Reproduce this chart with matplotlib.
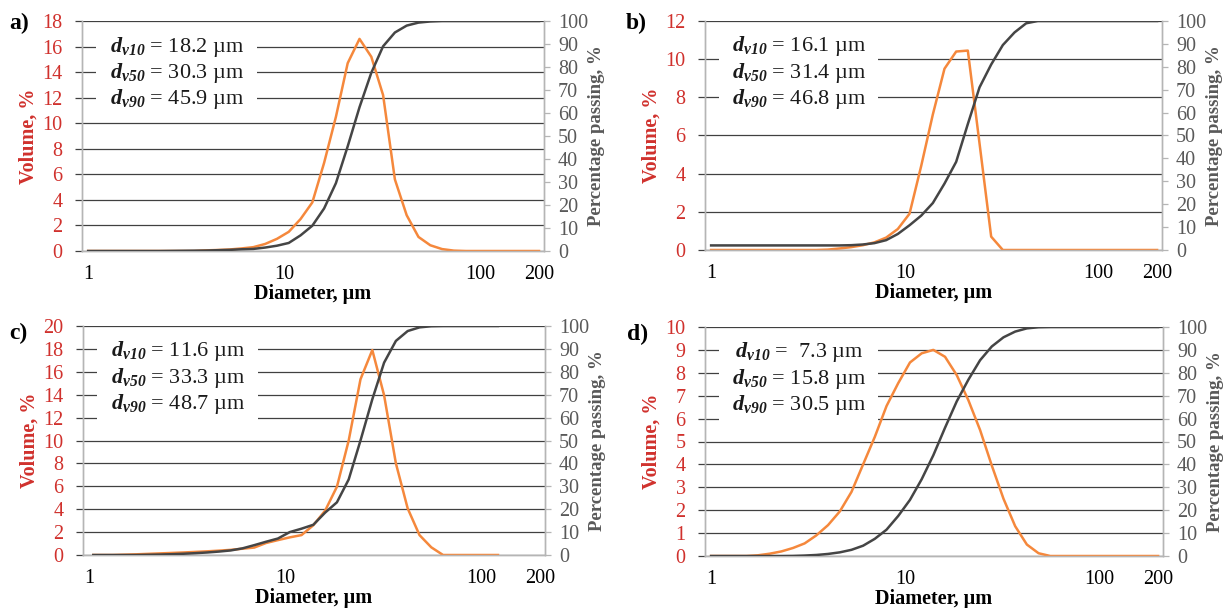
import matplotlib

matplotlib.use("Agg")
import matplotlib.pyplot as plt
from matplotlib.patches import Rectangle

# particle diameters (um) of the size bins
diam = [1.0, 1.15, 1.32, 1.52, 1.74, 2.0, 2.3, 2.64, 3.03, 3.48, 4.0, 4.6, 5.28,
        6.06, 6.96, 8.0, 9.19, 10.56, 12.13, 13.93, 16.0, 18.38, 21.11, 24.25,
        27.86, 32.0, 36.76, 42.22, 48.5, 55.72, 64.0, 73.52, 84.45, 97.01,
        111.4, 128.0, 147.0, 168.9, 200.0]
diam_c = [1.05, 1.15, 1.32, 1.52, 1.74, 2.0, 2.3, 2.64, 3.03, 3.48, 4.0, 4.6,
          5.28, 6.06, 6.96, 8.0, 9.19, 10.56, 12.13, 13.93, 16.0, 18.38, 21.11,
          24.25, 27.86, 32.0, 36.76, 42.22, 48.5, 55.72, 64.0, 73.52, 84.45,
          97.01, 111.4, 122.0]

vol_a = [0] * 10 + [0.05, 0.08, 0.12, 0.2, 0.3, 0.55, 0.95, 1.5, 2.5, 3.8, 6.9,
                    10.5, 14.7, 16.6, 15.2, 12.2, 5.6, 2.8, 1.1, 0.45, 0.15,
                    0.03] + [0] * 7
pass_a = [0] * 7 + [0.05, 0.1, 0.15, 0.2, 0.35, 0.5, 0.75, 0.9, 1.5, 2.3, 3.5,
                    6.8, 11.0, 18.5, 29.5, 45.5, 62.5, 77.5, 89.0, 95.0, 98.0,
                    99.3, 99.8] + [100] * 9

vol_b = [0] * 10 + [0.02, 0.08, 0.15, 0.25, 0.4, 0.65, 1.1, 1.9, 4.4, 7.1, 9.5,
                    10.4, 10.45, 5.6, 0.7] + [0] * 14
pass_b = [2.0] * 12 + [2.1, 2.4, 3.0, 4.3, 7.0, 10.8, 15.0, 20.5, 29.0, 38.5,
                       55.0, 71.0, 81.0, 89.5, 95.0, 99.0] + [100] * 11

vol_c = [0, 0, 0, 0.03, 0.06, 0.1, 0.14, 0.18, 0.22, 0.27, 0.32, 0.38, 0.45,
         0.55, 0.65, 1.05, 1.3, 1.54, 1.74, 2.6, 3.87, 5.96, 10.0, 15.35, 17.9,
         13.95, 8.0, 4.07, 1.74, 0.67, 0, 0, 0, 0, 0, 0]
pass_c = [0, 0, 0, 0, 0, 0.1, 0.2, 0.35, 0.55, 0.8, 1.1, 1.5, 2.0, 2.9, 4.3,
          5.8, 7.2, 10.0, 11.5, 13.2, 18.5, 23.0, 33.0, 50.0, 68.0, 84.0, 93.5,
          97.8, 99.4, 99.9] + [100] * 6

vol_d = [0] * 4 + [0.03, 0.1, 0.2, 0.35, 0.55, 0.9, 1.35, 1.95, 2.8, 4.0, 5.2,
                   6.55, 7.55, 8.45, 8.85, 9.0, 8.7, 7.9, 6.8, 5.5, 3.95, 2.5,
                   1.3, 0.5, 0.12] + [0] * 10
pass_d = [0] * 7 + [0.05, 0.2, 0.45, 0.9, 1.6, 2.7, 4.5, 7.5, 11.5, 17.5, 24.5,
                    33.5, 44.0, 56.0, 67.5, 77.0, 85.5, 91.5, 95.5, 98.0, 99.4,
                    99.9] + [100] * 10

panel_names = ["a)", "b)", "c)", "d)"]
vol_max = [18, 12, 20, 10]
vol_step = [2, 2, 2, 1]
dv_values = [
    ["18.2", "30.3", "45.9"],
    ["16.1", "31.4", "46.8"],
    ["11.6", "33.3", "48.7"],
    [" 7.3", "15.8", "30.5"],
]
x_ticks = [1, 10, 100, 200]

RED = "#d0312d"
GREY_TXT = "#595959"
ORANGE = "#f5883c"
DARK = "#454545"
GRID = "#404040"
SPINE = "#b5b5b5"
FS = 14.5

plt.rcParams.update({
    "font.family": "Liberation Serif",
    "font.size": FS,
    "mathtext.fontset": "custom",
    "mathtext.rm": "Liberation Serif",
    "mathtext.it": "Liberation Serif:italic",
    "mathtext.bf": "Liberation Serif:bold",
    "mathtext.bfit": "Liberation Serif:italic:bold",
})

W, H = 1229, 608
fig = plt.figure(figsize=(W / 100, H / 100), dpi=100)

# axes boxes in pixels: left, top, right, bottom
boxes = [(82, 21, 544, 251), (705, 21, 1162, 250),
         (83, 326, 545, 555), (705, 327, 1163, 556)]
letter_pos = [(9, 23), (626, 23), (9, 333), (627, 334)]

data = [
    (diam, vol_a, diam, pass_a),
    (diam, vol_b, diam, pass_b),
    (diam_c, vol_c, diam_c, pass_c),
    (diam, vol_d, diam, pass_d),
]

for k in range(4):
    l, t, r, b = boxes[k]
    ax = fig.add_axes([l / W, 1 - b / H, (r - l) / W, (b - t) / H])
    ax2 = ax.twinx()
    xv, vol, xp, pas = data[k]

    ax.plot(xv, vol, color=ORANGE, lw=1.8, zorder=3)
    ax2.plot(xp, pas, color=DARK, lw=1.8, zorder=3)

    ax.set_xscale("log")
    ax.set_xlim(0.93, 212)
    ax.set_xticks(x_ticks)
    ax.set_xticklabels([str(v) for v in x_ticks])
    ax.minorticks_off()
    ax.tick_params(axis="x", length=0, pad=10, labelsize=FS)
    ax.set_xlabel("Diameter, µm", fontweight="bold", fontsize=FS, labelpad=0)

    ymax = vol_max[k]
    ax.set_ylim(0, ymax)
    ax.set_yticks(range(0, ymax + 1, vol_step[k]))
    ax.tick_params(axis="y", length=5, width=0.9, color=GRID, pad=9,
                   labelcolor=RED, labelsize=FS)
    ax.yaxis.grid(True, color=GRID, lw=0.9)
    ax.set_ylabel("Volume, %", color=RED, fontweight="bold", fontsize=FS,
                  labelpad=3)

    ax2.set_ylim(0, 100)
    ax2.set_yticks(range(0, 101, 10))
    ax2.tick_params(axis="y", length=4, width=0.9, color=SPINE, pad=6,
                    labelcolor=GREY_TXT, labelsize=FS)
    ax2.set_ylabel("Percentage passing, %", color=GREY_TXT, fontweight="bold",
                   fontsize=13.5, labelpad=0)

    for a in (ax, ax2):
        a.spines["top"].set_visible(False)
        for side in ("left", "right", "bottom"):
            a.spines[side].set_color(SPINE)
            a.spines[side].set_linewidth(1.0)

    # white box holding the d-values, hides the grid behind it
    ax2.add_patch(Rectangle((0.030, 0.578), 0.348, 0.379,
                            transform=ax2.transAxes, facecolor="white",
                            edgecolor="none", zorder=4))
    for row, (sub, val) in enumerate(zip(["10", "50", "90"], dv_values[k])):
        ax2.text(0.205, 0.889 - row * 0.114,
                 r"$\mathbfit{d}_{\mathbfit{v" + sub + "}}$ = " + val + " µm",
                 transform=ax2.transAxes, ha="center", va="center",
                 fontsize=16, color="#1a1a1a", zorder=5)

    lx, ly = letter_pos[k]
    fig.text(lx / W, 1 - ly / H, panel_names[k], fontsize=17,
             fontweight="bold", ha="left", va="center")

fig.savefig("out.png", dpi=100)
